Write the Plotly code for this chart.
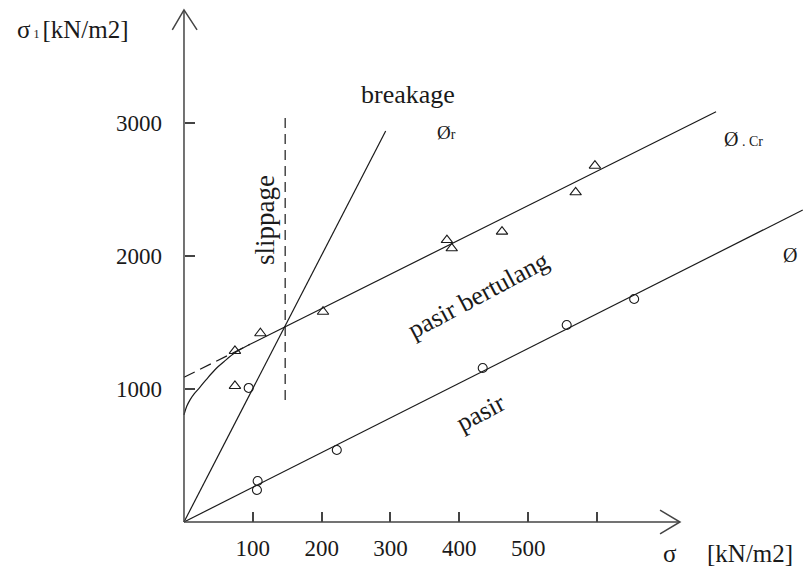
import plotly.graph_objects as go

# ---------------- data ----------------
SIGMA_TICKS = [100, 200, 300, 400, 500, 600]
SIGMA_TICK_LABELS = ["100", "200", "300", "400", "500", ""]
SIGMA1_TICKS = [1000, 2000, 3000]
SIGMA1_TICK_LABELS = ["1000", "2000", "3000"]

# pasir (sand) test points - circles
PASIR_SIGMA = [94, 107, 106, 222, 434, 556, 654]
PASIR_SIGMA1 = [1008, 308, 241, 541, 1158, 1481, 1677]

# pasir bertulang (reinforced sand) test points - triangles
BERTULANG_SIGMA = [74, 111, 202, 74, 382, 389, 462, 569, 597]
BERTULANG_SIGMA1 = [1286, 1419, 1581, 1023, 2120, 2058, 2183, 2479, 2679]

# failure envelopes
PASIR_LINE_SIGMA = [0, 899]
PASIR_LINE_SIGMA1 = [0, 2346]

CR_LINE_SIGMA = [96, 773]
CR_LINE_SIGMA1 = [1336, 3085]

CR_DASH_SIGMA = [0, 96]
CR_DASH_SIGMA1 = [1088, 1336]

CR_CURVE_SIGMA = [0, 4, 9, 15, 23, 33, 45, 58, 74, 96]
CR_CURVE_SIGMA1 = [805, 870, 920, 965, 1012, 1075, 1145, 1205, 1272, 1336]

BREAKAGE_SIGMA = [0, 293]
BREAKAGE_SIGMA1 = [0, 2940]

SLIPPAGE_SIGMA = [147, 147]
SLIPPAGE_SIGMA1 = [917, 3038]

# axis extents (data units)
X_RANGE = [-267.3, 899.3]
Y_RANGE = [-360.9, 3924.8]
X_AXIS_END = 720.6
Y_AXIS_END = 3850

W, H = 803, 570
FONT = "Liberation Serif, Times New Roman, serif"
INK = "#1a1a1a"
AX = "#444444"


def px(x):
    return x / W


def py(y):
    return 1 - y / H


fig = go.Figure()

line_style = dict(color=INK, width=1.2)

fig.add_trace(go.Scatter(x=PASIR_LINE_SIGMA, y=PASIR_LINE_SIGMA1, mode="lines", line=line_style))
fig.add_trace(go.Scatter(x=CR_LINE_SIGMA, y=CR_LINE_SIGMA1, mode="lines", line=line_style))
fig.add_trace(go.Scatter(x=CR_DASH_SIGMA, y=CR_DASH_SIGMA1, mode="lines",
                         line=dict(color=INK, width=1.2, dash="12px,6px")))
fig.add_trace(go.Scatter(x=CR_CURVE_SIGMA, y=CR_CURVE_SIGMA1, mode="lines",
                         line=dict(color=INK, width=1.2, shape="spline")))
fig.add_trace(go.Scatter(x=BREAKAGE_SIGMA, y=BREAKAGE_SIGMA1, mode="lines", line=line_style))
fig.add_trace(go.Scatter(x=SLIPPAGE_SIGMA, y=SLIPPAGE_SIGMA1, mode="lines",
                         line=dict(color=INK, width=1.2, dash="10px,6px")))

fig.add_trace(go.Scatter(x=PASIR_SIGMA, y=PASIR_SIGMA1, mode="markers",
                         marker=dict(symbol="circle-open", size=9, color=INK, line=dict(width=1.1))))
fig.add_trace(go.Scatter(x=BERTULANG_SIGMA, y=BERTULANG_SIGMA1, mode="markers",
                         marker=dict(symbol="triangle-up-open", size=10, color=INK, line=dict(width=1.1))))

# axes with arrow heads
ax_line = dict(color=AX, width=1.5)
shapes = [
    dict(type="line", xref="x", yref="y", x0=0, y0=0, x1=X_AXIS_END, y1=0, line=ax_line),
    dict(type="line", xref="x", yref="y", x0=0, y0=0, x1=0, y1=Y_AXIS_END, line=ax_line),
    dict(type="path", xref="x", yref="y",
         path=f"M {X_AXIS_END-29},{90} L {X_AXIS_END},0 L {X_AXIS_END-29},{-90}", line=ax_line),
    dict(type="path", xref="x", yref="y",
         path=f"M -17,{Y_AXIS_END-150} L 0,{Y_AXIS_END} L 19,{Y_AXIS_END-150}", line=ax_line),
]

annotations = [
    dict(x=px(15), y=py(30), xref="paper", yref="paper", xanchor="left", yanchor="middle", showarrow=False,
         text="σ<span style='font-size:12px'>&nbsp;1&nbsp;</span>[kN/m2]", font=dict(family=FONT, size=25, color=INK)),
    dict(x=px(661), y=py(553), xref="paper", yref="paper", xanchor="left", yanchor="middle", showarrow=False,
         text="σ", font=dict(family=FONT, size=25, color=INK)),
    dict(x=px(705), y=py(553), xref="paper", yref="paper", xanchor="left", yanchor="middle", showarrow=False,
         text="[kN/m2]", font=dict(family=FONT, size=25, color=INK)),
    dict(x=px(408), y=py(95), xref="paper", yref="paper", xanchor="center", yanchor="middle", showarrow=False,
         text="breakage", font=dict(family=FONT, size=26, color=INK)),
    dict(x=px(446), y=py(132), xref="paper", yref="paper", xanchor="center", yanchor="middle", showarrow=False,
         text="Ø<span style='font-size:14px'>r</span>", font=dict(family=FONT, size=19, color=INK)),
    dict(x=px(743), y=py(139), xref="paper", yref="paper", xanchor="center", yanchor="middle", showarrow=False,
         text="Ø<span style='font-size:14px'>&nbsp;.&nbsp;Cr</span>", font=dict(family=FONT, size=20, color=INK)),
    dict(x=px(790), y=py(255), xref="paper", yref="paper", xanchor="center", yanchor="middle", showarrow=False,
         text="Ø", font=dict(family=FONT, size=20, color=INK)),
    dict(x=px(265), y=py(220), xref="paper", yref="paper", xanchor="center", yanchor="middle", showarrow=False,
         text="slippage", textangle=-90, font=dict(family=FONT, size=27, color=INK)),
    dict(x=px(478), y=py(296), xref="paper", yref="paper", xanchor="center", yanchor="middle", showarrow=False,
         text="pasir bertulang", textangle=-28, font=dict(family=FONT, size=26, color=INK)),
    dict(x=px(481), y=py(412), xref="paper", yref="paper", xanchor="center", yanchor="middle", showarrow=False,
         text="pasir", textangle=-28, font=dict(family=FONT, size=26, color=INK)),
]

fig.update_layout(
    width=W, height=H,
    margin=dict(l=0, r=0, t=0, b=0),
    paper_bgcolor="white", plot_bgcolor="white",
    showlegend=False,
    shapes=shapes,
    annotations=annotations,
    xaxis=dict(range=X_RANGE, showgrid=False, zeroline=False, showline=False,
               anchor="free", position=48 / H,
               ticks="inside", ticklen=10, tickwidth=1.5, tickcolor=AX,
               tickvals=SIGMA_TICKS, ticktext=SIGMA_TICK_LABELS,
               ticklabelstandoff=10,
               tickfont=dict(family=FONT, size=23, color=INK)),
    yaxis=dict(range=Y_RANGE, showgrid=False, zeroline=False, showline=False,
               anchor="free", position=184 / W,
               ticks="inside", ticklen=10, tickwidth=1.5, tickcolor=AX,
               tickvals=SIGMA1_TICKS, ticktext=SIGMA1_TICK_LABELS,
               ticklabelstandoff=22,
               tickfont=dict(family=FONT, size=23, color=INK)),
)

fig.write_html("out.html", config={"displayModeBar": False},
               post_script="document.body.style.margin='0';document.body.style.padding='0';")
